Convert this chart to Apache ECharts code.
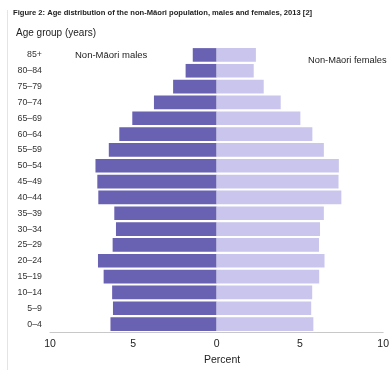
<!DOCTYPE html>
<html><head><meta charset="utf-8">
<script src="https://cdn.jsdelivr.net/npm/echarts@6/dist/echarts.min.js"></script>
<style>html,body{margin:0;padding:0;background:#fff}#c{width:392px;height:378px}</style>
</head><body><div id="c"></div>
<script>
const categories = ['85+','80–84','75–79','70–74','65–69','60–64','55–59','50–54','45–49','40–44','35–39','30–34','25–29','20–24','15–19','10–14','5–9','0–4'];
const males = [1.43,1.86,2.61,3.76,5.06,5.84,6.47,7.27,7.16,7.10,6.14,6.04,6.24,7.12,6.78,6.27,6.22,6.37];
const females = [2.36,2.23,2.83,3.85,5.03,5.75,6.44,7.34,7.32,7.49,6.44,6.21,6.15,6.48,6.16,5.74,5.68,5.81];
const xTicks = [-10,-5,0,5,10];

const chart = echarts.init(document.getElementById('c'), null, {renderer:'canvas'});
chart.setOption({
  animation:false,
  backgroundColor:'#fff',
  textStyle:{fontFamily:'Liberation Sans, Arial, sans-serif'},
  graphic:[
    {type:'text',left:13,top:9,style:{text:'Figure 2: Age distribution of the non-Māori population, males and females, 2013 [2]',font:'bold 7.6px Liberation Sans, Arial, sans-serif',fill:'#222'}},
    {type:'text',left:16,top:28,style:{text:'Age group (years)',font:'10px Liberation Sans, Arial, sans-serif',fill:'#222'}},
    {type:'text',left:75,top:50,style:{text:'Non-Māori males',font:'9.5px Liberation Sans, Arial, sans-serif',fill:'#222'}},
    {type:'text',left:308,top:56,style:{text:'Non-Māori females',font:'9.3px Liberation Sans, Arial, sans-serif',fill:'#222'}},
    {type:'text',left:204,top:355,style:{text:'Percent',font:'10.5px Liberation Sans, Arial, sans-serif',fill:'#222'}},
    {type:'line',shape:{x1:7.5,y1:10,x2:7.5,y2:370},style:{stroke:'#e4e4e4',lineWidth:1}}
  ],
  grid:{left:50,right:2,top:47,bottom:46,containLabel:false},
  xAxis:{type:'value',min:xTicks[0],max:xTicks[xTicks.length-1],interval:5,
    axisLine:{show:true,lineStyle:{color:'#c8c8c8'}},
    axisTick:{show:false},splitLine:{show:false},
    axisLabel:{color:'#222',fontSize:10.5,margin:7,formatter:v=>Math.abs(v)}},
  yAxis:{type:'category',data:categories,inverse:true,
    axisLine:{show:false},axisTick:{show:false},
    axisLabel:{color:'#333',fontSize:8.8,margin:8}},
  series:[
    {name:'Non-Māori males',type:'bar',stack:'a',data:males.map(v=>-v),barCategoryGap:'14%',
     itemStyle:{color:'#6962b2'}},
    {name:'Non-Māori females',type:'bar',stack:'a',data:females,barCategoryGap:'14%',
     itemStyle:{color:'#c9c5ec'}}
  ]
});
</script></body></html>
